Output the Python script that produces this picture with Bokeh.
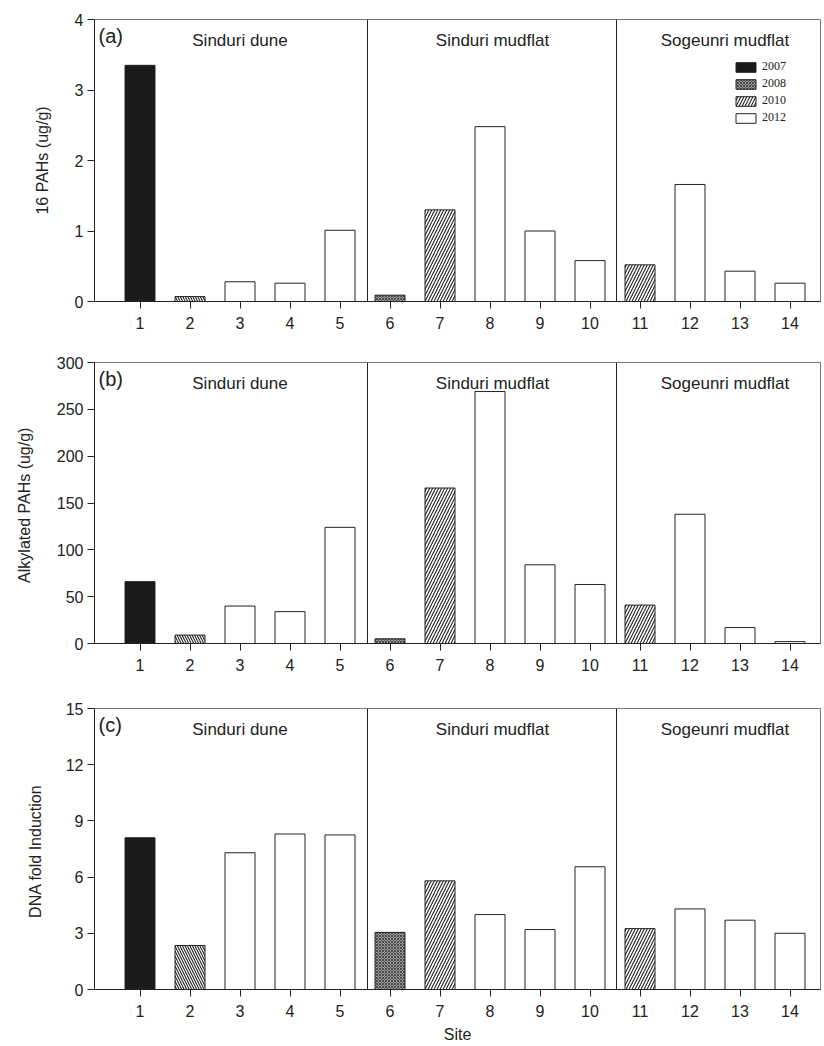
from bokeh.plotting import figure
from bokeh.layouts import column
from bokeh.models import Range1d, Span, Label, Legend, LegendItem, FixedTicker, ColumnDataSource
from bokeh.embed import file_html
from bokeh.resources import INLINE

sites = list(range(1, 15))
years = ["2007", "2009", "2012", "2012", "2012", "2008", "2010", "2012", "2012", "2012", "2010", "2012", "2012", "2012"]
pahs16 = [3.35, 0.07, 0.28, 0.26, 1.01, 0.09, 1.30, 2.48, 1.00, 0.58, 0.52, 1.66, 0.43, 0.26]
alkyl = [66, 9, 40, 34, 124, 5, 166, 269, 84, 63, 41, 138, 17, 2]
dna = [8.1, 2.35, 7.3, 8.3, 8.25, 3.05, 5.8, 4.0, 3.2, 6.55, 3.25, 4.3, 3.7, 3.0]
groups = ["Sinduri dune", "Sinduri mudflat", "Sogeunri mudflat"]
group_centers = [3.0, 8.05, 12.7]
dividers = [5.55, 10.53]
legend_years = ["2007", "2008", "2010", "2012"]

FONT = "Liberation Sans"
INK = "#222222"
styles = {
    "2007": dict(fill_color="#1a1a1a"),
    "2008": dict(fill_color="#9a9a9a", hatch_pattern="x", hatch_color="#2a2a2a", hatch_scale=3, hatch_weight=0.7),
    "2009": dict(fill_color="white", hatch_pattern="\\", hatch_color=INK, hatch_scale=5, hatch_weight=1.1),
    "2010": dict(fill_color="white", hatch_pattern="/", hatch_color=INK, hatch_scale=6, hatch_weight=1.1),
    "2012": dict(fill_color="white"),
}


def panel(values, ymax, yticks, ylabel, tag, height, top, bottom, std, show_legend=False, xlabel=None):
    p = figure(width=824, height=height, output_backend="svg", toolbar_location=None,
               x_range=Range1d(0.09, 14.61), y_range=Range1d(0, ymax),
               min_border_left=94, min_border_right=4, min_border_top=top, min_border_bottom=bottom)
    p.xgrid.visible = False
    p.ygrid.visible = False
    p.outline_line_color = "#777777"
    p.outline_line_width = 1
    renderers = {}
    for yr in ["2007", "2008", "2009", "2010", "2012"]:
        xs = [s for s, y in zip(sites, years) if y == yr]
        vs = [v for v, y in zip(values, years) if y == yr]
        src = ColumnDataSource(dict(x=xs, top=vs))
        r = p.vbar(x="x", top="top", width=0.6, source=src, line_color=INK, line_width=1, **styles[yr])
        renderers[yr] = r
    for d in dividers:
        p.add_layout(Span(location=d, dimension="height", line_color=INK, line_width=1))
    frame_h = height - top - bottom
    for g, c in zip(groups, group_centers):
        p.add_layout(Label(x=c, y=frame_h - 21, y_units="screen", text=g, text_font=FONT,
                           text_font_size="17px", text_align="center", text_baseline="middle",
                           text_color=INK))
    p.add_layout(Label(x=0.17, y=frame_h - 5, y_units="screen", text=tag, text_font=FONT,
                       text_font_size="20px", text_align="left", text_baseline="top", text_color=INK))
    for ax in (p.xaxis[0], p.yaxis[0]):
        ax.axis_line_color = INK
        ax.major_tick_line_color = INK
        ax.major_tick_out = 7
        ax.major_tick_in = 0
        ax.minor_tick_line_color = None
        ax.major_label_text_font = FONT
        ax.major_label_text_font_size = "16px"
        ax.major_label_text_color = INK
        ax.axis_label_text_font = FONT
        ax.axis_label_text_font_size = "16px"
        ax.axis_label_text_font_style = "normal"
        ax.axis_label_text_color = INK
    p.xaxis.ticker = FixedTicker(ticks=sites)
    p.yaxis.ticker = FixedTicker(ticks=yticks)
    p.yaxis.axis_label = ylabel
    p.yaxis.axis_label_standoff = std
    p.yaxis.major_label_standoff = 4
    p.xaxis.major_label_standoff = 8
    if xlabel:
        p.xaxis.axis_label = xlabel
        p.xaxis.axis_label_standoff = 6
    if show_legend:
        items = [LegendItem(label=yr, renderers=[renderers[yr]]) for yr in legend_years]
        leg = Legend(items=items, location=(639, frame_h - 106), glyph_width=25, glyph_height=12,
                     spacing=2, padding=0, margin=0, border_line_color=None, background_fill_alpha=0,
                     label_text_font="Liberation Serif", label_text_font_size="12px",
                     label_text_color=INK, label_standoff=4, label_height=12)
        p.add_layout(leg)
    return p


p1 = panel(pahs16, 4, [0, 1, 2, 3, 4], "16 PAHs (ug/g)", "(a)", 340, 19, 39, 21, show_legend=True)
p2 = panel(alkyl, 300, [0, 50, 100, 150, 200, 250, 300], "Alkylated  PAHs (ug/g)", "(b)", 360, 22, 57, 21)
p3 = panel(dna, 15, [0, 3, 6, 9, 12, 15], "DNA  fold Induction", "(c)", 346, 8, 57, 19, xlabel="Site")

layout = column(p1, p2, p3, spacing=0)
open("out.html", "w").write(file_html(layout, INLINE))
